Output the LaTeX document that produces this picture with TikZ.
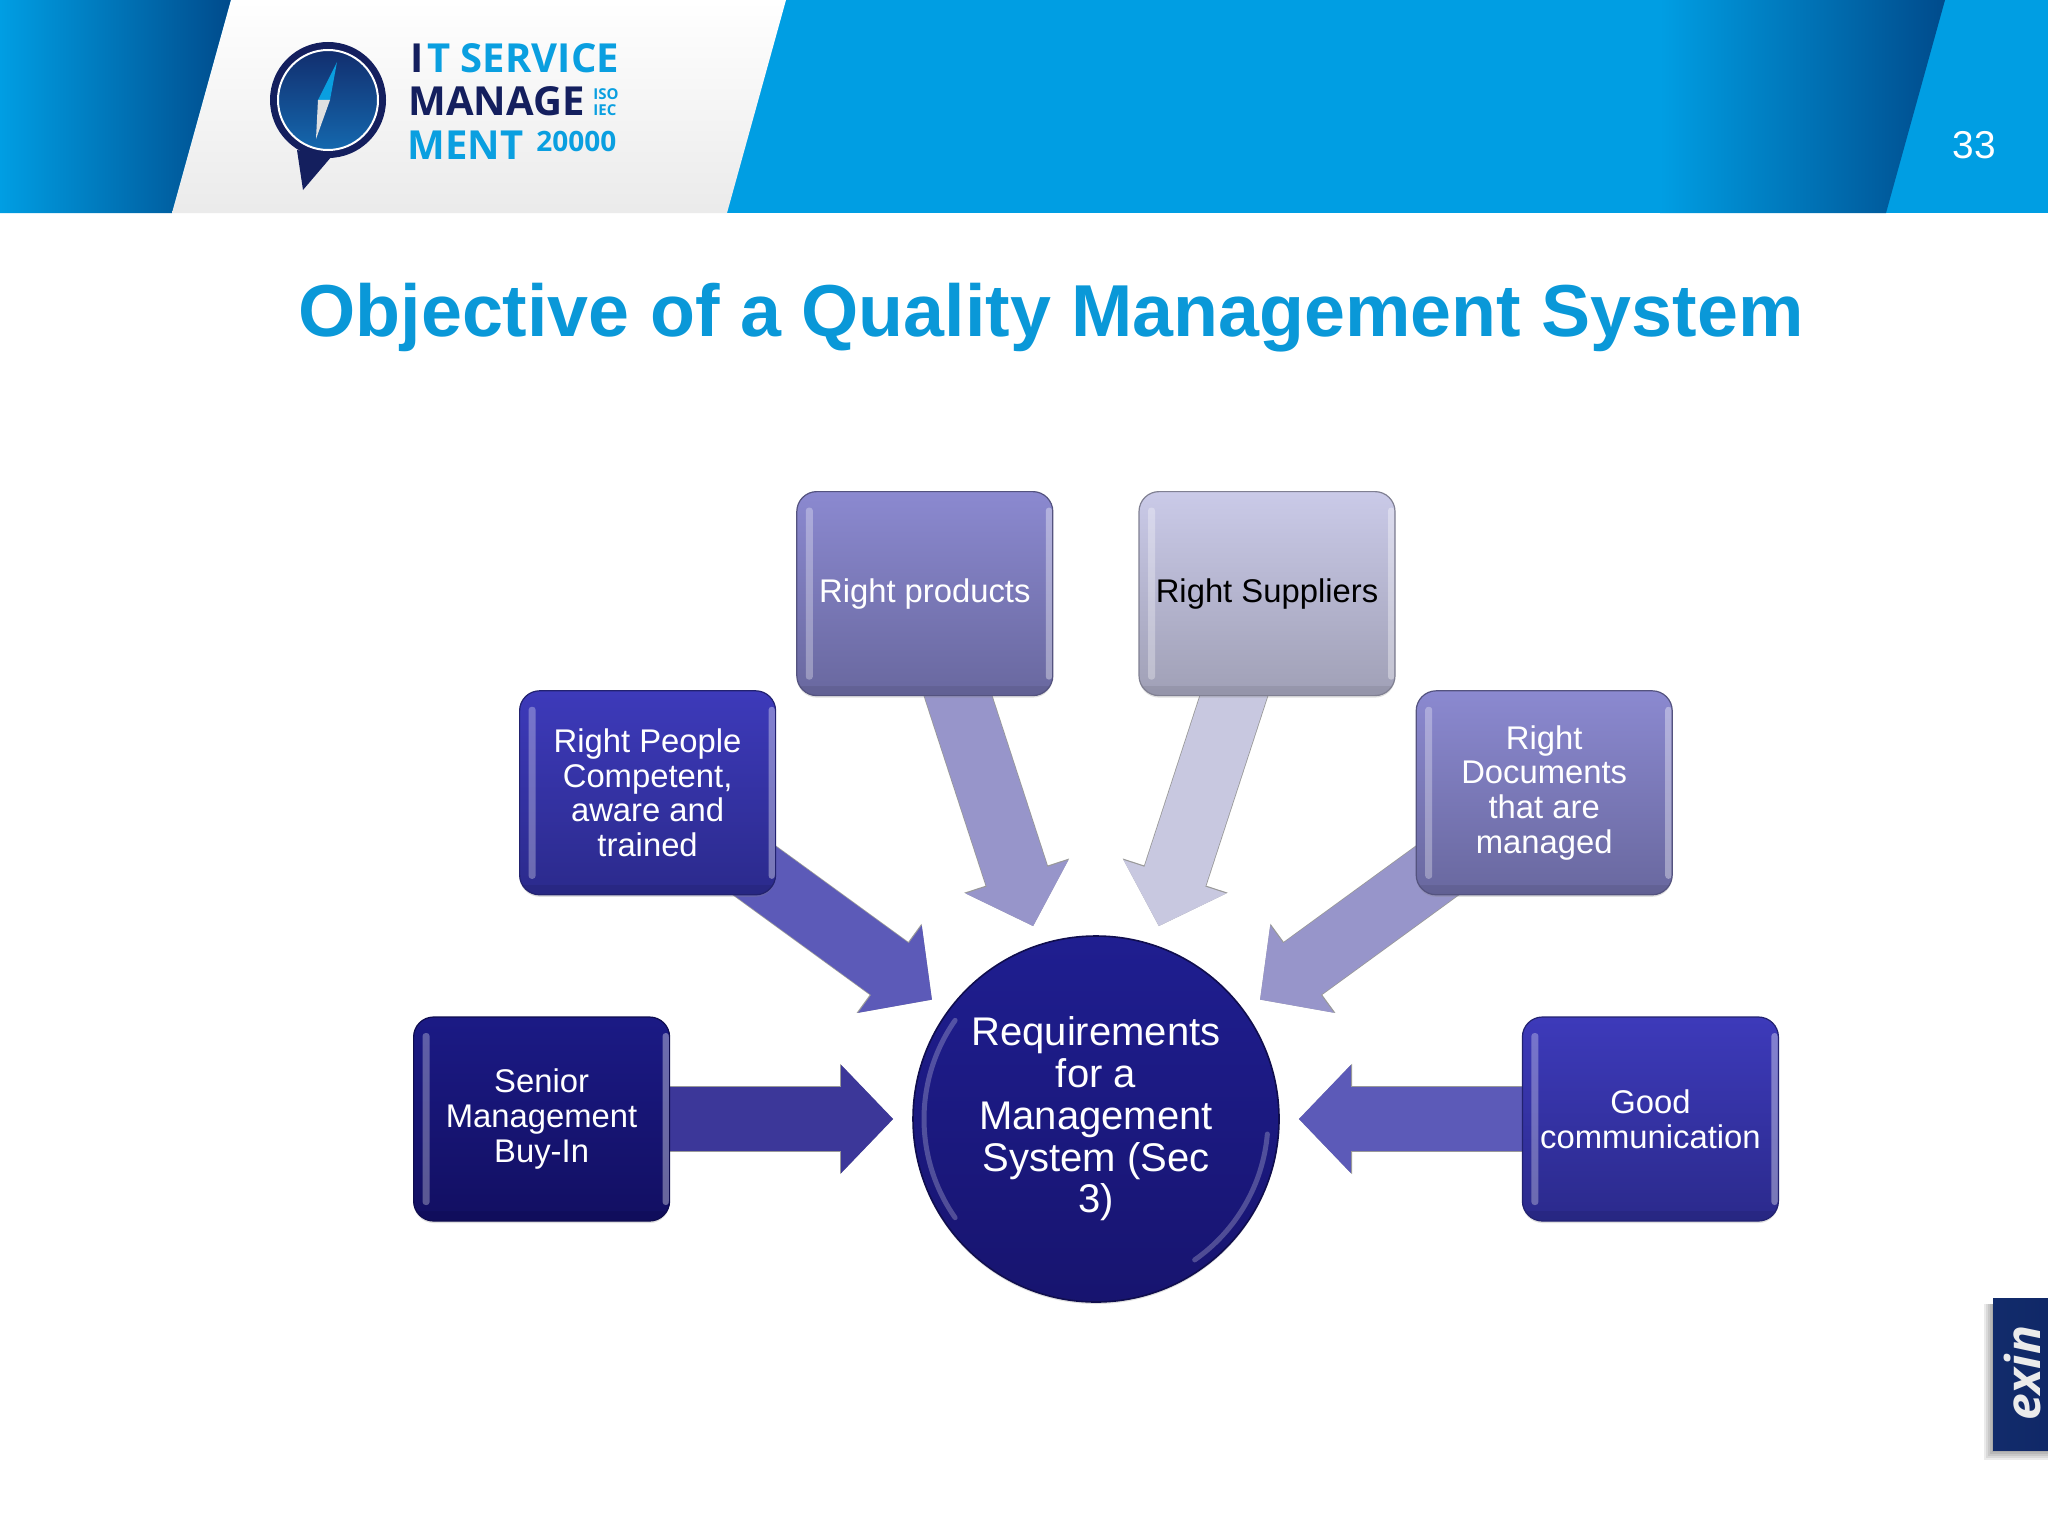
\documentclass[tikz,border=0pt]{standalone}
\usepackage{fontspec}
\setmainfont{Liberation Sans}
\newfontfamily\logofont{Open Sans}
\usetikzlibrary{positioning,arrows.meta,shadows,backgrounds}

\definecolor{bandblue}{HTML}{009EE3}
\definecolor{banddark}{HTML}{004B8C}
\definecolor{logonavy}{HTML}{141F5E}
\definecolor{logocyan}{HTML}{0A9FE0}
\definecolor{logotop}{HTML}{122E6E}
\definecolor{logobot}{HTML}{1468AE}
\definecolor{titleblue}{HTML}{0A98D8}
\definecolor{coretop}{HTML}{1F1E90}
\definecolor{corebot}{HTML}{17146F}
\definecolor{deeptop}{HTML}{1B1A85}
\definecolor{deepbot}{HTML}{120F62}
\definecolor{strongtop}{HTML}{3D3ABA}
\definecolor{strongbot}{HTML}{2B2A8C}
\definecolor{midtop}{HTML}{8B89D0}
\definecolor{midbot}{HTML}{69689F}
\definecolor{paletop}{HTML}{CACAE8}
\definecolor{palebot}{HTML}{A0A0B6}
\definecolor{arrowdeep}{HTML}{3C3799}
\definecolor{arrowstrong}{HTML}{5C5AB8}
\definecolor{arrowmid}{HTML}{9795CA}
\definecolor{arrowpale}{HTML}{C8C8E0}

\tikzset{
  blockarrow/.style={line width=32pt, shorten >=9.5pt, shorten <=-40pt, draw=#1,
    preaction={draw=black!40, line width=32.8pt,
      -{Triangle[width=53.6pt,length=26.6pt]}},
    -{Triangle[width=52.5pt,length=26pt]}},
  stripe/.style={fill=white, opacity=#1, rounded corners=1.5pt},
  goalbox/.style n args={3}{rectangle, rounded corners=10pt, inner sep=0pt,
    minimum width=128pt, minimum height=102pt, align=center,
    top color=#1, bottom color=#2, draw=#2!80!black, line width=.6pt, text=#3,
    font=\fontsize{16.4}{17.4}\selectfont,
    drop shadow={shadow xshift=0pt, shadow yshift=-1pt, opacity=.25},
    path picture={
      \fill[stripe=.3] ([xshift=4.5pt,yshift=-8pt]path picture bounding box.north west)
        rectangle ([xshift=8pt,yshift=8pt]path picture bounding box.south west);
      \fill[stripe=.36] ([xshift=-3.5pt,yshift=-8pt]path picture bounding box.north east)
        rectangle ([xshift=-.3pt,yshift=8pt]path picture bounding box.south east);
      \fill[black, opacity=.07, sharp corners] ([yshift=5pt]path picture bounding box.south west)
        rectangle (path picture bounding box.south east);
    }},
  corecircle/.style={circle, inner sep=0pt, minimum size=183pt, align=center,
    top color=coretop, bottom color=corebot, draw=corebot!70!black, line width=.8pt,
    text=white, font=\fontsize{20}{20.9}\selectfont,
    drop shadow={shadow xshift=0pt, shadow yshift=-1pt, opacity=.25},
    path picture={
      \draw[white, opacity=.24, line width=2.5pt, line cap=round]
        (path picture bounding box.center) ++(145:86pt) arc[start angle=145,end angle=215,radius=86pt];
      \draw[white, opacity=.24, line width=2.5pt, line cap=round]
        (path picture bounding box.center) ++(-55:86pt) arc[start angle=-55,end angle=-5,radius=86pt];
    }},
  logotext/.style={anchor=base west, inner sep=0pt, font=\logofont\bfseries\fontsize{#1}{#1}\selectfont}
}

\begin{document}
\begin{tikzpicture}[x=.5pt,y=-.5pt]
  \useasboundingbox (0,0) rectangle (2048,1536);
  % header band
  \fill[bandblue] (0,0) rectangle (2048,213);
  \shade[left color=bandblue, middle color=bandblue!70!banddark, right color=banddark]
    (0,0) -- (231,0) -- (172,213) -- (0,213) -- cycle;
  \shade[top color=white, bottom color=black!8]
    (231,0) -- (786,0) -- (727,213) -- (172,213) -- cycle;
  \shade[left color=bandblue, middle color=bandblue!80!banddark, right color=banddark]
    (1660,0) -- (1945,0) -- (1886,213) -- (1660,213) -- cycle;
  % logo
  \fill[logonavy] (297,150) -- (303,190) -- (332,156) -- cycle;
  \fill[logonavy] (328,100) circle (58);
  \shade[top color=logotop, bottom color=logobot, draw=white, line width=1pt]
    (328,100) circle (50);
  \fill[logocyan] (337,62) -- (318,100) -- (330,100) -- cycle;
  \fill[black!12] (316,139) -- (318,100) -- (330,100) -- cycle;
  \node (it) [logotext=20, text=logonavy] at (410,73) {I};
  \node (service) [logotext=20, text=logocyan] at (427,73) {T SERVICE};
  \node (manage) [logotext=20, text=logonavy] at (408,116) {MANAGE};
  \node (iso) [logotext=7.5, text=logocyan] at (593,99) {ISO};
  \node (iec) [logotext=7.5, text=logocyan] at (593,116) {IEC};
  \node (ment) [logotext=20, text=logocyan] at (407,159) {MENT};
  \node (twenty) [logotext=14, text=logocyan] at (536,151) {20000};
  % page number and title
  \node (page) [text=white, font=\fontsize{19.4}{20}\selectfont] at (1974,145) {33};
  \node (title) [anchor=base, inner sep=0pt, text=titleblue, font=\bfseries\fontsize{36.8}{40}\selectfont]
    at (1051,336) {Objective of a Quality Management System};
  % the nodes
  \node (core) [corecircle] at (1096,1119) {Requirements\\for a\\Management\\System (Sec\\3)};
  \node (senior) [goalbox={deeptop}{deepbot}{white}, left=121pt of core] {Senior\\Management\\Buy-In};
  \node (good) [goalbox={strongtop}{strongbot}{white}, right=121pt of core] {Good\\communication};
  \node (people) [goalbox={strongtop}{strongbot}{white}, above=60.5pt of senior, xshift=53pt] {Right People\\Competent,\\aware and\\trained};
  \node (products) [goalbox={midtop}{midbot}{white}, above right=-3pt and 10pt of people] {Right products};
  \node (suppliers) [goalbox={paletop}{palebot}{black}, right=42.5pt of products] {Right Suppliers};
  \node (docs) [goalbox={midtop}{midbot}{white}, below right=-3pt and 10pt of suppliers] {Right\\Documents\\that are\\managed};
  % the block arrows, under the nodes
  \begin{scope}[on background layer]
    \draw[blockarrow=arrowdeep] (senior) -- (core);
    \draw[blockarrow=arrowstrong] (people) -- (core);
    \draw[blockarrow=arrowmid] (products) -- (core);
    \draw[blockarrow=arrowpale] (suppliers) -- (core);
    \draw[blockarrow=arrowmid] (docs) -- (core);
    \draw[blockarrow=arrowstrong] (good) -- (core);
  \end{scope}
  % tab on the right, with a soft shadow
  \foreach \spread in {0,2,4,6,8}
    \fill[black, opacity=.08] (1992-\spread,1304) rectangle (2048,1452+\spread);
  \shade[left color=logonavy!90!bandblue, right color=logonavy!80!banddark]
    (1993,1298) rectangle (2048,1450);
  \node (exin) [rotate=90, text=white!92!black, inner sep=0pt,
    font=\logofont\bfseries\itshape\fontsize{24}{24}\selectfont] at (2022,1373) {exin};
\end{tikzpicture}
\end{document}
